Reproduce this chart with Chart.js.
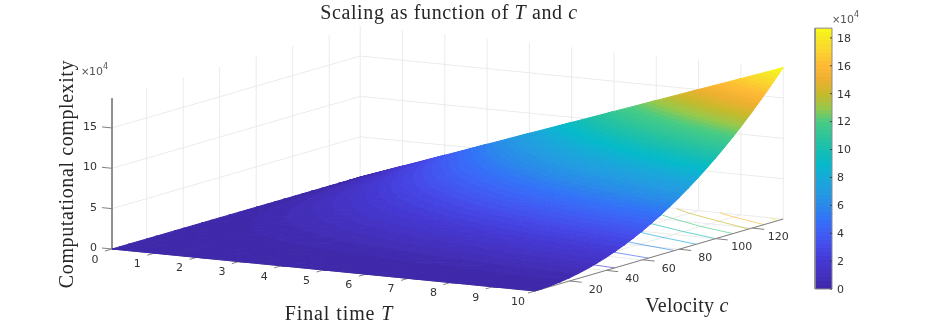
<!DOCTYPE html>
<html>
<head>
<meta charset="utf-8">
<title>Scaling as function of T and c</title>
<script src="https://cdn.jsdelivr.net/npm/chart.js@4/dist/chart.umd.min.js"></script>
<style>
    html, body { margin: 0; padding: 0; background: #fff; overflow: hidden; }
    canvas { display: block; }
</style>
</head>
<body>
<canvas id="surfaceChart" width="937" height="327"></canvas>
<script>
// Values, complexity in units of 10^4
const finalTimes = [0, 1, 2, 3, 4, 5, 6, 7, 8, 9, 10];
const velocities = [1, 5, 10, 15, 20, 25, 30, 35, 40, 45, 50, 55, 60, 65, 70, 75, 80, 85, 90, 95, 100, 105, 110, 115, 120, 125, 130, 135, 137];
const complexity = [
    [0, 0, 0, 0, 0, 0, 0, 0, 0, 0, 0, 0, 0, 0, 0, 0, 0, 0, 0, 0, 0, 0, 0, 0, 0, 0, 0, 0, 0],
    [0, 0, .01, .02, .04, .06, .09, .12, .16, .20, .25, .30, .36, .42, .49, .56, .64, .72, .81, .90, 1.00, 1.10, 1.21, 1.32, 1.44, 1.56, 1.69, 1.82, 1.88],
    [0, .01, .02, .05, .08, .13, .18, .25, .32, .41, .50, .61, .72, .85, .98, 1.13, 1.28, 1.45, 1.62, 1.81, 2.00, 2.21, 2.42, 2.65, 2.88, 3.13, 3.38, 3.65, 3.75],
    [0, .01, .03, .07, .12, .19, .27, .37, .48, .61, .75, .91, 1.08, 1.27, 1.47, 1.69, 1.92, 2.17, 2.43, 2.71, 3.00, 3.31, 3.63, 3.97, 4.32, 4.69, 5.07, 5.47, 5.63],
    [0, .01, .04, .09, .16, .25, .36, .49, .64, .81, 1.00, 1.21, 1.44, 1.69, 1.96, 2.25, 2.56, 2.89, 3.24, 3.61, 4.00, 4.41, 4.84, 5.29, 5.76, 6.25, 6.76, 7.29, 7.51],
    [0, .01, .05, .11, .20, .31, .45, .61, .80, 1.01, 1.25, 1.51, 1.80, 2.11, 2.45, 2.81, 3.20, 3.61, 4.05, 4.51, 5.00, 5.51, 6.05, 6.61, 7.20, 7.81, 8.45, 9.11, 9.38],
    [0, .02, .06, .14, .24, .38, .54, .74, .96, 1.22, 1.50, 1.82, 2.16, 2.54, 2.94, 3.38, 3.84, 4.34, 4.86, 5.42, 6.00, 6.62, 7.26, 7.94, 8.64, 9.38, 10.14, 10.94, 11.26],
    [0, .02, .07, .16, .28, .44, .63, .86, 1.12, 1.42, 1.75, 2.12, 2.52, 2.96, 3.43, 3.94, 4.48, 5.06, 5.67, 6.32, 7.00, 7.72, 8.47, 9.26, 10.08, 10.94, 11.83, 12.76, 13.14],
    [0, .02, .08, .18, .32, .50, .72, .98, 1.28, 1.62, 2.00, 2.42, 2.88, 3.38, 3.92, 4.50, 5.12, 5.78, 6.48, 7.22, 8.00, 8.82, 9.68, 10.58, 11.52, 12.50, 13.52, 14.58, 15.02],
    [0, .02, .09, .20, .36, .56, .81, 1.10, 1.44, 1.82, 2.25, 2.72, 3.24, 3.80, 4.41, 5.06, 5.76, 6.50, 7.29, 8.12, 9.00, 9.92, 10.89, 11.90, 12.96, 14.06, 15.21, 16.40, 16.89],
    [0, .03, .10, .23, .40, .63, .90, 1.23, 1.60, 2.03, 2.50, 3.03, 3.60, 4.23, 4.90, 5.63, 6.40, 7.23, 8.10, 9.03, 10.00, 11.03, 12.10, 13.23, 14.40, 15.63, 16.90, 18.23, 18.77]
];

// Floor contours: one [T, c] list per level
const contourLevels = [2, 4, 6, 8, 10, 12, 14, 16, 18];
const contourPaths = [
    [[10, 44.7], [9, 47.1], [8, 50], [7, 53.5], [6, 57.7], [5, 63.2], [4, 70.7], [3, 81.6], [2, 100], [1.07, 137]],
    [[10, 63.2], [9, 66.7], [8, 70.7], [7, 75.6], [6, 81.6], [5, 89.4], [4, 100], [3, 115.5], [2.13, 137]],
    [[10, 77.5], [9, 81.6], [8, 86.6], [7, 92.6], [6, 100], [5, 109.5], [4, 122.5], [3.2, 137]],
    [[10, 89.4], [9, 94.3], [8, 100], [7, 107], [6, 115.5], [5, 126.5], [4.3, 137]],
    [[10, 100], [9, 105.4], [8, 111.8], [7, 119.5], [6, 129], [5.33, 137]],
    [[10, 109.5], [9, 115], [8, 122.5], [7, 131], [6.4, 137]],
    [[10, 118], [9, 125], [8, 132], [7.5, 136.6]],
    [[10, 126.5], [9, 133], [8.5, 137]],
    [[10, 134], [9.7, 137]]
];

const timeTicks = [0, 1, 2, 3, 4, 5, 6, 7, 8, 9, 10];
const velocityTicks = [20, 40, 60, 80, 100, 120];
const complexityTicks = [0, 5, 10, 15];
const colorbarTicks = [0, 2, 4, 6, 8, 10, 12, 14, 16, 18];

// Colorbar colours, [value, colour]
const colormapValues = [0, 1, 2, 3, 4, 5, 6, 7, 8, 9, 10, 11, 12, 13, 14, 15, 16, 17, 18, 18.7];
const colormapColors = ['#3e27a6', '#4330bd', '#4539d4', '#4549e8', '#3f5ef5', '#3372f7', '#2a8aea', '#239ce2', '#17aad8', '#04bac9', '#18bfb0', '#2fc598', '#48cb84', '#98c84a', '#c8b92a', '#eeb030', '#feb935', '#fbd230', '#f6ea24', '#f9fb15'];

const zMax = 18.7;
const cMin = 1;
const cMax = 137;
const colorSteps = 64;

// The view is orthographic, so the box maps to the page with one affine step
function project(t, c, z) {
    return {
        x: 112 + 42.3 * t + 1.825 * (c - cMin),
        y: 249 + 4.2 * t - 0.529 * (c - cMin) - 8.07 * z
    };
}

function hexToRgb(hex) {
    return [parseInt(hex.slice(1, 3), 16), parseInt(hex.slice(3, 5), 16), parseInt(hex.slice(5, 7), 16)];
}

function colorAt(z) {
    const v = Math.max(0, Math.min(zMax, z));
    let i = 0;
    while (i < colormapValues.length - 2 && v > colormapValues[i + 1]) i++;
    const f = (v - colormapValues[i]) / (colormapValues[i + 1] - colormapValues[i]);
    const a = hexToRgb(colormapColors[i]);
    const b = hexToRgb(colormapColors[i + 1]);
    return 'rgb(' + a.map((n, k) => Math.round(n + (b[k] - n) * f)).join(',') + ')';
}

// The colormap has a fixed number of flat steps
function steppedColor(z) {
    const size = zMax / colorSteps;
    const step = Math.min(colorSteps - 1, Math.floor(Math.max(0, z) / size));
    return colorAt((step + 0.5) * size);
}

function addSteppedStops(grad, zLow, zHigh) {
    const size = zMax / colorSteps;
    const range = zHigh - zLow;
    let low = zLow;
    grad.addColorStop(0, steppedColor(zLow));
    let level = (Math.floor(zLow / size) + 1) * size;
    while (level < zHigh) {
        const f = (level - zLow) / range;
        grad.addColorStop(f, steppedColor(low));
        grad.addColorStop(f, steppedColor(level + size / 2));
        low = level + size / 2;
        level += size;
    }
    grad.addColorStop(1, steppedColor(zHigh));
}

// Height is a plane over one triangle, so neighbouring triangles agree along their edge
function trianglePaint(ctx, p, z) {
    const zLow = Math.min(z[0], z[1], z[2]);
    const zHigh = Math.max(z[0], z[1], z[2]);
    if (zHigh - zLow < 0.001) return steppedColor(zLow);

    const ux = p[1].x - p[0].x, uy = p[1].y - p[0].y;
    const vx = p[2].x - p[0].x, vy = p[2].y - p[0].y;
    const dzu = z[1] - z[0], dzv = z[2] - z[0];
    const det = ux * vy - uy * vx;
    if (Math.abs(det) < 1e-6) return steppedColor((zLow + zHigh) / 2);
    const gx = (dzu * vy - dzv * uy) / det;
    const gy = (ux * dzv - vx * dzu) / det;
    const g2 = gx * gx + gy * gy;

    const grad = ctx.createLinearGradient(
        p[0].x + gx * (zLow - z[0]) / g2, p[0].y + gy * (zLow - z[0]) / g2,
        p[0].x + gx * (zHigh - z[0]) / g2, p[0].y + gy * (zHigh - z[0]) / g2
    );
    addSteppedStops(grad, zLow, zHigh);
    return grad;
}

function lineSet(points, color, width) {
    return {
        data: points,
        showLine: true,
        fill: false,
        borderColor: color,
        borderWidth: width,
        pointRadius: 0,
        tension: 0
    };
}

function shapeSet(points, paint, edge) {
    return {
        data: points.concat([points[0]]),
        showLine: true,
        fill: 'shape',
        backgroundColor: paint,
        borderColor: paint,
        borderWidth: edge,
        pointRadius: 0,
        tension: 0
    };
}

// Back walls and floor
function gridSets() {
    const sets = [];
    const color = '#ebebeb';
    timeTicks.slice(1).forEach(t => {
        sets.push(lineSet([project(t, cMin, 0), project(t, cMax, 0), project(t, cMax, zMax)], color, 1));
    });
    velocityTicks.forEach(c => {
        sets.push(lineSet([project(10, c, 0), project(0, c, 0), project(0, c, zMax)], color, 1));
    });
    complexityTicks.slice(1).forEach(z => {
        sets.push(lineSet([project(0, cMin, z), project(0, cMax, z), project(10, cMax, z)], color, 1));
    });
    sets.push(lineSet([project(0, cMax, 0), project(0, cMax, zMax)], color, 1));
    sets.push(lineSet([project(0, cMin, 0), project(0, cMax, 0), project(10, cMax, 0)], color, 1));
    return sets;
}

function contourSets() {
    return contourPaths.map((path, i) => {
        const color = colorAt(contourLevels[i]).replace('rgb(', 'rgba(').replace(')', ',0.65)');
        return lineSet(path.map(pair => project(pair[0], pair[1], 0)), color, 1);
    });
}

function axisSets() {
    const sets = [];
    const color = '#808080';
    sets.push(lineSet([project(0, cMin, zMax), project(0, cMin, 0), project(10, cMin, 0), project(10, cMax, 0)], color, 1));
    timeTicks.forEach(t => {
        const a = project(t, cMin, 0);
        sets.push(lineSet([a, { x: a.x - 7, y: a.y + 2 }], color, 1));
    });
    velocityTicks.forEach(c => {
        const a = project(10, c, 0);
        sets.push(lineSet([a, { x: a.x + 12, y: a.y + 1.3 }], color, 1));
    });
    complexityTicks.forEach(z => {
        const a = project(0, cMin, z);
        sets.push(lineSet([a, { x: a.x - 10, y: a.y - 1 }], color, 1));
    });
    return sets;
}

// Far cells first so near cells lie over them, each cell split in two triangles
function surfaceSets(ctx) {
    const sets = [];
    for (let i = 0; i < finalTimes.length - 1; i++) {
        for (let j = velocities.length - 2; j >= 0; j--) {
            const t0 = finalTimes[i], t1 = finalTimes[i + 1];
            const c0 = velocities[j], c1 = velocities[j + 1];
            const z = [complexity[i][j], complexity[i][j + 1], complexity[i + 1][j + 1], complexity[i + 1][j]];
            const p = [project(t0, c0, z[0]), project(t0, c1, z[1]), project(t1, c1, z[2]), project(t1, c0, z[3])];
            const first = [p[0], p[1], p[2]];
            const second = [p[0], p[2], p[3]];
            sets.push(shapeSet(first, trianglePaint(ctx, first, [z[0], z[1], z[2]]), 1));
            sets.push(shapeSet(second, trianglePaint(ctx, second, [z[0], z[2], z[3]]), 1));
        }
    }
    return sets;
}

// Colorbar, placed with its own value-to-page step
const barLeft = 815;
const barRight = 832;
function barY(v) {
    return 289 - v * 13.95;
}

function colorbarSets(ctx) {
    const grad = ctx.createLinearGradient(0, barY(0), 0, barY(zMax));
    addSteppedStops(grad, 0, zMax);
    const sets = [];
    sets.push(shapeSet([
        { x: barLeft, y: barY(0) }, { x: barRight, y: barY(0) },
        { x: barRight, y: barY(zMax) }, { x: barLeft, y: barY(zMax) }
    ], grad, 0));
    sets.push(lineSet([
        { x: barLeft, y: barY(0) }, { x: barRight, y: barY(0) },
        { x: barRight, y: barY(zMax) }, { x: barLeft, y: barY(zMax) }, { x: barLeft, y: barY(0) }
    ], '#8a8a8a', 1));
    colorbarTicks.forEach(v => {
        sets.push(lineSet([{ x: barRight - 2, y: barY(v) }, { x: barRight, y: barY(v) }], '#404040', 1));
    });
    return sets;
}

// Text with a mix of upright and italic runs
function drawRuns(ctx, runs, x, y, size, spacing) {
    const family = '"Liberation Serif", serif';
    ctx.letterSpacing = spacing + 'px';
    let width = 0;
    runs.forEach(r => {
        ctx.font = (r[1] ? 'italic ' : '') + size + 'px ' + family;
        width += ctx.measureText(r[0]).width;
    });
    let pos = x - width / 2;
    runs.forEach(r => {
        ctx.font = (r[1] ? 'italic ' : '') + size + 'px ' + family;
        ctx.fillText(r[0], pos, y);
        pos += ctx.measureText(r[0]).width;
    });
    ctx.letterSpacing = '0px';
}

function drawExponent(ctx, x, y) {
    ctx.textAlign = 'left';
    ctx.font = '10px "DejaVu Sans", sans-serif';
    ctx.fillStyle = '#555555';
    ctx.fillText('\u00d7', x, y);
    ctx.font = '11px "DejaVu Sans", sans-serif';
    ctx.fillText('10', x + 8, y);
    ctx.font = '8px "DejaVu Sans", sans-serif';
    ctx.fillText('4', x + 22, y - 5);
}

const labelPlugin = {
    id: 'labelPlugin',
    afterDraw(chart) {
        const ctx = chart.ctx;
        ctx.save();
        ctx.textBaseline = 'middle';

        ctx.fillStyle = '#333333';
        ctx.font = '11px "DejaVu Sans", sans-serif';
        ctx.textAlign = 'center';
        timeTicks.forEach(t => {
            const a = project(t, cMin, 0);
            ctx.fillText(String(t), a.x - 17, a.y + 11);
        });
        velocityTicks.forEach(c => {
            const a = project(10, c, 0);
            ctx.fillText(String(c), a.x + 26, a.y + 9);
        });
        ctx.textAlign = 'right';
        complexityTicks.forEach(z => {
            const a = project(0, cMin, z);
            ctx.fillText(String(z), a.x - 15, a.y - 1);
        });
        ctx.textAlign = 'left';
        colorbarTicks.forEach(v => {
            ctx.fillText(String(v), barRight + 5, barY(v) + 1);
        });

        drawExponent(ctx, 81, 72);
        drawExponent(ctx, 832, 20);

        ctx.fillStyle = '#262626';
        ctx.textAlign = 'left';
        drawRuns(ctx, [['Scaling as function of ', false], ['T', true], [' and ', false], ['c', true]], 449, 14, 20, 0.63);
        drawRuns(ctx, [['Final time ', false], ['T', true]], 339, 315, 20, 0.9);
        drawRuns(ctx, [['Velocity ', false], ['c', true]], 687, 307, 20, 0.3);

        ctx.translate(68, 174);
        ctx.rotate(-Math.PI / 2);
        drawRuns(ctx, [['Computational complexity', false]], 0, 0, 20, 0.6);
        ctx.restore();
    }
};

// Khởi tạo biểu đồ mặt cong
function initSurfaceChart() {
    const canvas = document.getElementById('surfaceChart');
    const ctx = canvas.getContext('2d');
    const datasets = [].concat(
        gridSets(),
        contourSets(),
        axisSets(),
        surfaceSets(ctx),
        colorbarSets(ctx)
    ).reverse();

    new Chart(ctx, {
        type: 'scatter',
        data: { datasets: datasets },
        options: {
            responsive: false,
            animation: false,
            layout: { padding: 0 },
            plugins: {
                legend: { display: false },
                title: { display: false },
                tooltip: { enabled: false }
            },
            scales: {
                x: { type: 'linear', min: 0, max: 937, display: false },
                y: { type: 'linear', min: 0, max: 327, reverse: true, display: false }
            }
        },
        plugins: [labelPlugin]
    });
}

document.addEventListener('DOMContentLoaded', function() {
    initSurfaceChart();
});
</script>
</body>
</html>
